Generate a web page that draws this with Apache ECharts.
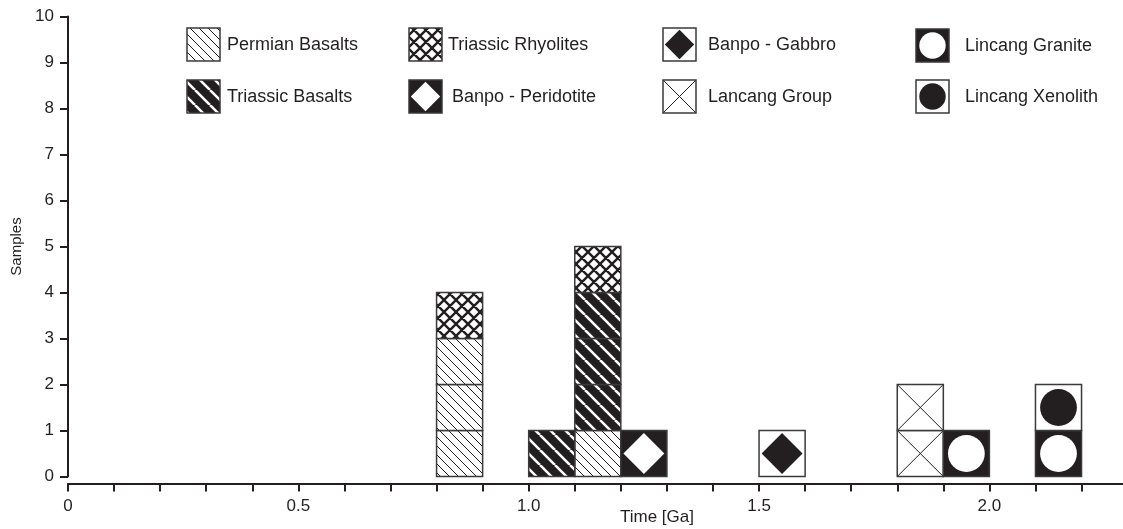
<!DOCTYPE html>
<html><head><meta charset="utf-8">
<script src="https://cdn.jsdelivr.net/npm/echarts@6/dist/echarts.min.js"></script>
<style>html,body{margin:0;padding:0;background:#fff}#c{width:1123px;height:529px}</style>
</head><body><div id="c"></div>
<script>
// ---------------- DATA ----------------
const binWidth = 0.1; // Ga
const groupNames = ['Permian Basalts','Triassic Basalts','Triassic Rhyolites','Banpo - Peridotite',
                    'Banpo - Gabbro','Lancang Group','Lincang Granite','Lincang Xenolith'];
// [bin start (Ga), number of samples] for each group (stack order = order of groups)
const permianBasalts   = [[0.8, 3], [1.1, 1]];
const triassicBasalts  = [[1.0, 1], [1.1, 3]];
const triassicRhyolites= [[0.8, 1], [1.1, 1]];
const banpoPeridotite  = [[1.2, 1]];
const banpoGabbro      = [[1.5, 1]];
const lancangGroup     = [[1.8, 2]];
const lincangGranite   = [[1.9, 1], [2.1, 1]];
const lincangXenolith  = [[2.1, 1]];
const xTickLabels = {0:'0', 5:'0.5', 10:'1.0', 15:'1.5', 20:'2.0'}; // keyed by tenths of Ga
const axisTitles = {x:'Time [Ga]', y:'Samples'};

const groupData = [permianBasalts, triassicBasalts, triassicRhyolites, banpoPeridotite,
                   banpoGabbro, lancangGroup, lincangGranite, lincangXenolith];

// ---------------- STYLE ----------------
const INK = '#231f20';
const FONT = '"Liberation Sans", Arial, Helvetica, sans-serif';
const kinds = ['hatch','hatchInv','cross','diamondInv','diamond','xbox','circleInv','circle'];

function makePattern(size, bg, fg, lw, cross) {
  const c = document.createElement('canvas'); c.width = c.height = size;
  const g = c.getContext('2d');
  g.fillStyle = bg; g.fillRect(0,0,size,size);
  g.strokeStyle = fg; g.lineWidth = lw;
  g.beginPath();
  for (let k=-1;k<=1;k++){ g.moveTo(k*size,0); g.lineTo(k*size+size,size); }
  if (cross) for (let k=-1;k<=1;k++){ g.moveTo(k*size,size); g.lineTo(k*size+size,0); }
  g.stroke();
  return {image: c, repeat: 'repeat'};
}
const patterns = {
  hatch: makePattern(9, '#ffffff', INK, 1, false),
  hatchInv: makePattern(15, INK, '#ffffff', 2.6, false),
  cross: makePattern(12, '#ffffff', INK, 2.4, true)
};

function boxShape(kind, r) {
  const cx = r.x + r.width/2, cy = r.y + r.height/2, s = Math.min(r.width, r.height);
  const children = [];
  let fill = '#ffffff';
  if (patterns[kind]) fill = patterns[kind];
  if (kind === 'diamondInv' || kind === 'circleInv') fill = INK;
  children.push({type:'rect', shape:{x:r.x, y:r.y, width:r.width, height:r.height}, style:{fill: fill}});
  const h = s*0.445;
  if (kind === 'diamond' || kind === 'diamondInv') {
    children.push({type:'polygon', shape:{points:[[cx,cy-h],[cx+h,cy],[cx,cy+h],[cx-h,cy]]},
      style:{fill: kind==='diamond'? INK : '#ffffff'}});
  }
  if (kind === 'circle' || kind === 'circleInv') {
    children.push({type:'circle', shape:{cx:cx, cy:cy, r:s*0.40},
      style:{fill: kind==='circle'? INK : '#ffffff'}});
  }
  if (kind === 'xbox') {
    children.push({type:'line', shape:{x1:r.x,y1:r.y,x2:r.x+r.width,y2:r.y+r.height}, style:{stroke:INK, lineWidth:1}});
    children.push({type:'line', shape:{x1:r.x,y1:r.y+r.height,x2:r.x+r.width,y2:r.y}, style:{stroke:INK, lineWidth:1}});
  }
  children.push({type:'rect', shape:{x:r.x, y:r.y, width:r.width, height:r.height},
    style:{fill:'none', stroke:'#3a3a3a', lineWidth:1.5}});
  return {type:'group', children: children};
}

// stack samples: one box per sample
const stackTop = {};
const series = groupData.map((arr, gi) => {
  const boxes = [];
  arr.forEach(([x0, n]) => {
    const key = x0.toFixed(1);
    for (let i=0;i<n;i++) {
      const y0 = stackTop[key] || 0;
      boxes.push([x0, +(x0+binWidth).toFixed(2), y0, y0+1]);
      stackTop[key] = y0+1;
    }
  });
  return {
    type:'custom', name: groupNames[gi], data: boxes,
    renderItem: (params, api) => {
      const p0 = api.coord([api.value(0), api.value(2)]);
      const p1 = api.coord([api.value(1), api.value(3)]);
      return boxShape(kinds[gi], {x:p0[0], y:p1[1], width:p1[0]-p0[0], height:p0[1]-p1[1]});
    }
  };
});

// legend (layout only)
const legendPos = [[187,28,227],[187,80,227],[409,28,448],[409,80,452],[663,28,708],[663,80,708],[916,29,965],[916,80,965]];
const graphics = [];
groupNames.forEach((name, gi) => {
  const [x,y,tx] = legendPos[gi];
  graphics.push(boxShape(kinds[gi], {x:x, y:y, width:33, height:33}));
  graphics.push({type:'text', x:tx, y:y+17, style:{text: name, font:'18px '+FONT, fill:INK, verticalAlign:'middle', textAlign:'left'}});
});
graphics.push({type:'text', x:657, y:517, style:{text: axisTitles.x, font:'17px '+FONT, fill:INK, align:'center', verticalAlign:'middle', textAlign:'center'}});

const chart = echarts.init(document.getElementById('c'), null, {renderer:'canvas'});
chart.setOption({
  animation:false,
  backgroundColor:'#ffffff',
  grid:{left:68, right:0, top:16.5, bottom:52.5},
  xAxis:{type:'value', min:0, max:2.29, interval:0.1, offset:7,
    axisLine:{show:true, onZero:false, lineStyle:{color:INK, width:2}},
    axisTick:{show:true, length:8, lineStyle:{color:INK, width:2}},
    splitLine:{show:false},
    axisLabel:{margin:14, fontSize:17, fontFamily:FONT, color:INK, showMaxLabel:false,
      formatter: v => { const k = Math.round(v*10); return xTickLabels[k] !== undefined ? xTickLabels[k] : ''; }}
  },
  yAxis:{type:'value', min:0, max:10, interval:1,
    name: axisTitles.y, nameLocation:'middle', nameGap:44,
    nameTextStyle:{fontSize:15, fontFamily:FONT, color:INK},
    axisLine:{show:true, onZero:false, lineStyle:{color:INK, width:2}},
    axisTick:{show:true, length:8, lineStyle:{color:INK, width:2}},
    splitLine:{show:false},
    axisLabel:{margin:14, fontSize:17, fontFamily:FONT, color:INK}
  },
  graphic: graphics,
  series: series
});
</script></body></html>
